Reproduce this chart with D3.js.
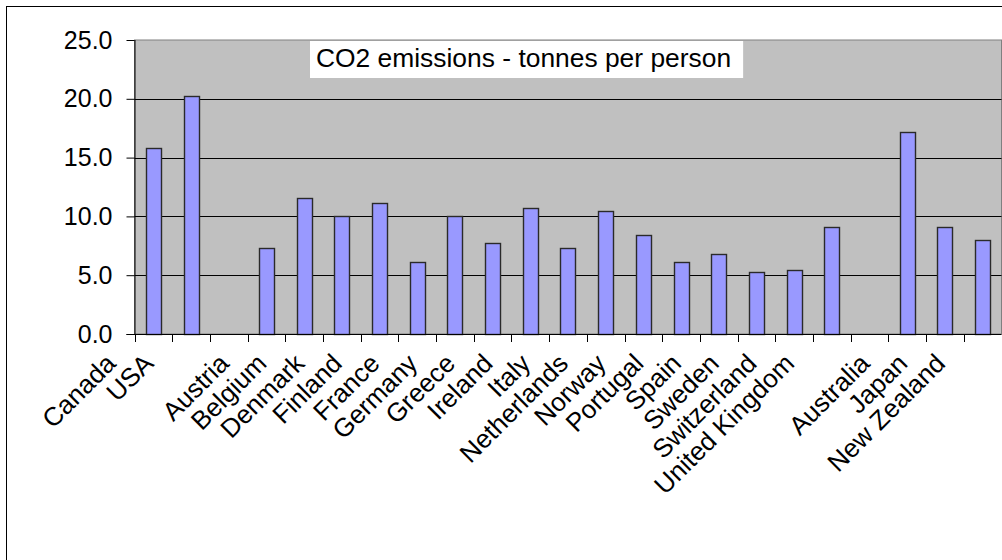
<!DOCTYPE html>
<html>
<head>
<meta charset="utf-8">
<script src="https://cdn.jsdelivr.net/npm/d3@7"></script>
<style>
  html, body { margin: 0; padding: 0; background: #fff; }
  svg { display: block; }
  text { font-family: Arial, "Liberation Sans", sans-serif; fill: #000; }
</style>
</head>
<body>
<svg id="chart" width="1002" height="560"></svg>
<script>
// CO2 emissions per person, tonnes; empty strings are spacer categories
const countries = ["Canada", "USA", "", "Austria", "Belgium", "Denmark", "Finland",
  "France", "Germany", "Greece", "Ireland", "Italy", "Netherlands", "Norway",
  "Portugal", "Spain", "Sweden", "Switzerland", "United Kingdom", "",
  "Australia", "Japan", "New Zealand"];
const emissions = [15.8, 20.2, null, 7.3, 11.6, 10.0, 11.1,
  6.1, 10.0, 7.7, 10.7, 7.3, 10.5, 8.4,
  6.1, 6.8, 5.3, 5.4, 9.1, null,
  17.2, 9.1, 8.0];
const yTicks = [0, 5, 10, 15, 20, 25];
const chartTitle = "CO2 emissions - tonnes per person";

const svg = d3.select("#chart");
const plot = { left: 134.5, right: 1001.5, top: 40, bottom: 334 };

// outer chart frame (runs past the window on the right and bottom)
svg.append("rect")
  .attr("x", 6.5).attr("y", 6.5)
  .attr("width", 1100).attr("height", 700)
  .attr("fill", "#fff").attr("stroke", "#000").attr("stroke-width", 1);

const slots = countries.map((c, i) => i);
const x = d3.scaleBand().domain(slots).range([plot.left, plot.right])
  .paddingInner(0.6).paddingOuter(0.3);
const step = x.step();
const y = d3.scaleLinear().domain([0, 25]).range([plot.bottom, plot.top]);

// plot area background
svg.append("rect")
  .attr("x", plot.left).attr("y", plot.top)
  .attr("width", plot.right - plot.left).attr("height", plot.bottom - plot.top)
  .attr("fill", "#C0C0C0").attr("stroke", "#808080").attr("stroke-width", 1);

// horizontal gridlines
svg.append("g").selectAll("line")
  .data(yTicks.filter(t => t > 0 && t < 25))
  .join("line")
  .attr("x1", plot.left).attr("x2", plot.right)
  .attr("y1", d => Math.round(y(d)) + 0.5).attr("y2", d => Math.round(y(d)) + 0.5)
  .attr("stroke", "#000").attr("stroke-width", 1);

// bars
svg.append("g").selectAll("rect")
  .data(emissions.map((v, i) => ({ i, v })).filter(d => d.v != null))
  .join("rect")
  .attr("x", d => Math.round(x(d.i)) + 0.5)
  .attr("y", d => Math.round(y(d.v)) + 0.5)
  .attr("width", Math.round(x.bandwidth()))
  .attr("height", d => Math.round(y(0)) - Math.round(y(d.v)))
  .attr("fill", "#9999FF").attr("stroke", "#2a2a2a").attr("stroke-width", 1.4);

// y axis
const yAxis = d3.axisLeft(y).tickValues(yTicks).tickFormat(d3.format(".1f"))
  .tickSize(8).tickPadding(14);
const gy = svg.append("g").attr("transform", `translate(${plot.left},0)`).call(yAxis);
gy.select(".domain").attr("stroke", "#000").attr("d", `M0.5,${plot.top}V${plot.bottom}`);
gy.selectAll(".tick line").attr("stroke", "#000");
gy.selectAll(".tick text").attr("font-size", 25).attr("font-family", "Arial, 'Liberation Sans', sans-serif").attr("fill", "#000");

// x axis: ticks at category boundaries
const boundaries = d3.range(countries.length + 1).map(i => plot.left + i * step);
const gx = svg.append("g");
gx.append("line")
  .attr("x1", plot.left - 8).attr("x2", plot.right)
  .attr("y1", plot.bottom + 0.5).attr("y2", plot.bottom + 0.5)
  .attr("stroke", "#000");
gx.selectAll("line.tick").data(boundaries).join("line")
  .attr("class", "tick")
  .attr("x1", d => Math.round(d) + 0.5).attr("x2", d => Math.round(d) + 0.5)
  .attr("y1", plot.bottom).attr("y2", plot.bottom + 8)
  .attr("stroke", "#000");

// rotated category labels
gx.selectAll("text").data(countries.map((c, i) => ({ c, i })).filter(d => d.c))
  .join("text")
  .attr("transform", d => `translate(${x(d.i) + x.bandwidth() / 2 - 36},365) rotate(-45)`)
  .attr("text-anchor", "end")
  .attr("font-size", 26)
  .text(d => d.c);

// title box inside the plot area
const tg = svg.append("g");
const title = tg.append("text")
  .attr("x", 316).attr("y", 67)
  .attr("font-size", 26.4)
  .text(chartTitle);
const bb = title.node().getBBox();
tg.insert("rect", "text")
  .attr("x", 310).attr("y", 41)
  .attr("width", bb.width + 12 + 6).attr("height", 37)
  .attr("fill", "#fff");
</script>
</body>
</html>
